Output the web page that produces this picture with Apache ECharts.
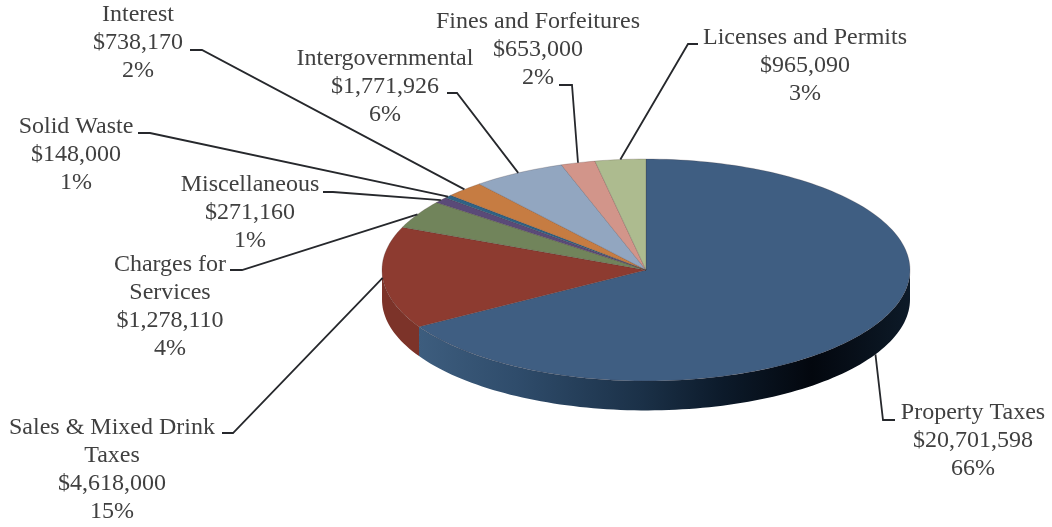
<!DOCTYPE html>
<html>
<head>
<meta charset="utf-8">
<style>html,body{margin:0;padding:0;background:#fff}#chart{width:1052px;height:527px}</style>
<script src="https://cdn.jsdelivr.net/npm/echarts@6/dist/echarts.min.js"></script>
</head>
<body>
<div id="chart"></div>
<script>
// General fund revenue by source, clockwise from twelve o'clock.
const categories = ['Property Taxes', 'Sales & Mixed Drink\nTaxes', 'Charges for\nServices', 'Miscellaneous',
  'Solid Waste', 'Interest', 'Intergovernmental', 'Fines and Forfeitures', 'Licenses and Permits'];
const amounts = [20701598, 4618000, 1278110, 271160, 148000, 738170, 1771926, 653000, 965090];
const shares = ['66%', '15%', '4%', '1%', '1%', '2%', '6%', '2%', '3%'];
const faceColors = ['#3f5e82', '#8d3b30', '#71845b', '#5a4a78', '#2f6285', '#c67c42', '#92a6c0', '#d2958a', '#adbb8f'];

// Where each caption sits (centre x, first line centre y), and the leader's elbow and stub.
const captionCentres = [[973, 413], [112, 428], [170, 265], [250, 185], [76, 127], [138, 15], [385, 59], [538, 22], [805, 38]];
const leaderBends = [[883, 420], [233, 433], [242, 270], [333, 192], [150, 133], [202, 50], [457, 93], [572, 85], [688, 44]];
const leaderStubs = [[895, 420], [222, 433], [230, 270], [323, 192], [138, 133], [190, 50], [447, 93], [559, 85], [698, 44]];

// Thickness of the disc, in the same units as the unit-circle axes.
const wallDepth = 0.265;

const total = amounts.reduce((a, b) => a + b, 0);
let running = 0;
const spans = amounts.map(v => {
  const from = running / total * 360;
  running += v;
  return [from, running / total * 360];
});

const rimPoint = (deg, drop) => {
  const r = deg * Math.PI / 180;
  return [Math.sin(r), Math.cos(r) - (drop || 0)];
};
const arc = (a, b, drop, api) => {
  const n = Math.max(2, Math.ceil(Math.abs(b - a) / 1.5));
  const pts = [];
  for (let i = 0; i <= n; i++) pts.push(api.coord(rimPoint(a + (b - a) * i / n, drop)));
  return pts;
};

const wallFills = [
  new echarts.graphic.LinearGradient(0, 0, 1, 0, [
    { offset: 0, color: '#3d5d7e' }, { offset: 0.2, color: '#2f4c6b' }, { offset: 0.45, color: '#1b3148' },
    { offset: 0.62, color: '#0c1a2a' }, { offset: 0.8, color: '#03070e' }, { offset: 1, color: '#0d1a28' }
  ]),
  '#7c3329'
];

const option = {
  animation: false,
  backgroundColor: '#fff',
  tooltip: { show: false },
  grid: { left: 382, width: 528, top: 159, height: 222 },
  xAxis: { type: 'value', min: -1, max: 1, show: false },
  yAxis: { type: 'value', min: -1, max: 1, show: false },
  series: [
    {
      // Front wall of the disc: only the part of each slice facing the viewer.
      type: 'custom', clip: false, silent: true, z: 1,
      data: spans,
      renderItem(params, api) {
        const a = Math.max(api.value(0), 90), b = Math.min(api.value(1), 270);
        if (b <= a) return null;
        const pts = arc(a, b, 0, api).concat(arc(b, a, wallDepth, api));
        return { type: 'polygon', shape: { points: pts }, style: { fill: wallFills[params.dataIndex] || faceColors[params.dataIndex] } };
      }
    },
    {
      // Top face of the disc.
      type: 'custom', clip: false, silent: true, z: 2,
      data: spans,
      renderItem(params, api) {
        const pts = [api.coord([0, 0])].concat(arc(api.value(0), api.value(1), 0, api));
        return {
          type: 'polygon', shape: { points: pts },
          style: { fill: faceColors[params.dataIndex], stroke: 'rgba(60,40,40,0.35)', lineWidth: 0.6 }
        };
      }
    },
    {
      // Leader lines run from the middle of each slice's rim out to its caption.
      type: 'custom', clip: false, silent: true, z: 3,
      data: spans,
      renderItem(params, api) {
        const i = params.dataIndex;
        const mid = (api.value(0) + api.value(1)) / 2;
        const onWall = mid > 90 && mid < 240;
        const end = api.coord(rimPoint(mid, onWall ? wallDepth : 0));
        return {
          type: 'polyline',
          shape: { points: [end, leaderBends[i], leaderStubs[i]] },
          style: { fill: null, stroke: '#26282c', lineWidth: 1.8 }
        };
      }
    }
  ],
  graphic: categories.map((name, i) => ({
    type: 'text',
    x: captionCentres[i][0],
    y: captionCentres[i][1] - 14,
    silent: true,
    style: {
      text: name + '\n$' + amounts[i].toLocaleString('en-US') + '\n' + shares[i],
      font: '24px "Liberation Serif"',
      lineHeight: 28,
      fill: '#404040',
      textAlign: 'center',
      textVerticalAlign: 'top'
    }
  }))
};

echarts.init(document.getElementById('chart'), null, { renderer: 'canvas' }).setOption(option);
</script>
</body>
</html>
